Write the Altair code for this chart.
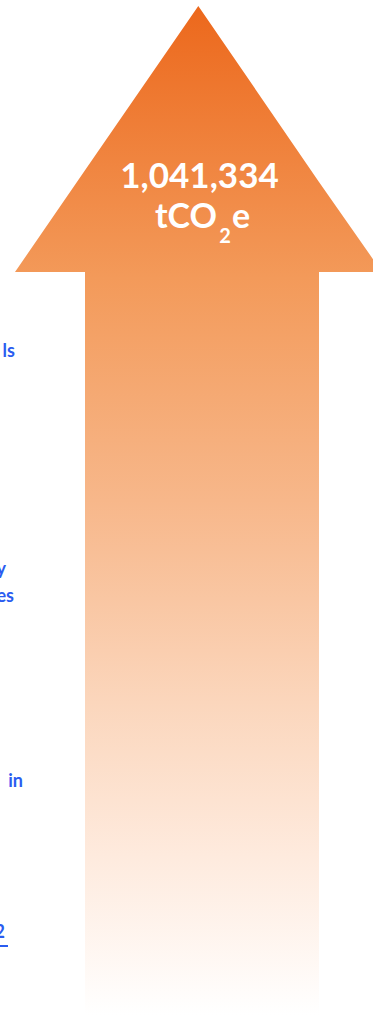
import altair as alt
import pandas as pd

W, H = 373, 1015

# Arrow outline as an area: x, upper edge, lower edge (pixel-like units, y grows downward)
arrow_x = [15, 85, 85.01, 198.3, 318.99, 319, 382]
arrow_top = [272, 170.3, 170.3, 6, 181.9, 181.9, 272]
arrow_bottom = [272, 272, 1015, 1015, 1015, 272, 272]

# Gradient (top -> bottom)
grad_offsets = [0.0, 0.27, 0.49, 0.69, 0.84, 1.0]
grad_colors = ["#EC681C", "#F39A5A", "#F7B78A", "#FBD6BC", "#FEEADD", "#FFFFFF"]

# Headline value
value_text = ["1,041,334"]
unit_main = ["tCO"]
unit_sub = ["2"]
unit_tail = ["e"]

# Clipped blue labels on the left edge
side_text = ["ls", "y", "es", "in", "2"]
side_x = [15, 6, 14, 23, 5]
side_y = [357, 575, 602, 787, 938]

arrow_df = pd.DataFrame({"x": arrow_x, "y": arrow_top, "y2": arrow_bottom})

xs = alt.Scale(domain=[0, W], nice=False, zero=False)
ys = alt.Scale(domain=[H, 0], nice=False, zero=False)

gradient = alt.Gradient(
    gradient="linear",
    stops=[alt.GradientStop(color=c, offset=o) for c, o in zip(grad_colors, grad_offsets)],
    x1=1, x2=1, y1=0, y2=1,
)

arrow = alt.Chart(arrow_df).mark_area(color=gradient, clip=True).encode(
    x=alt.X("x:Q", scale=xs, axis=None),
    y=alt.Y("y:Q", scale=ys, axis=None),
    y2="y2:Q",
)

def text_layer(df, **kw):
    return alt.Chart(df).mark_text(**kw).encode(
        x=alt.X("x:Q", scale=xs, axis=None),
        y=alt.Y("y:Q", scale=ys, axis=None),
        text="t:N",
    )

font = "Lato"
v = text_layer(pd.DataFrame({"x": [199.5], "y": [188], "t": value_text}),
               font=font, fontWeight="bold", fontSize=35, color="white",
               align="center", baseline="alphabetic")
u1 = text_layer(pd.DataFrame({"x": [217], "y": [228], "t": unit_main}),
                font=font, fontWeight="bold", fontSize=34, color="white",
                align="right", baseline="alphabetic")
u2 = text_layer(pd.DataFrame({"x": [225], "y": [243], "t": unit_sub}),
                font=font, fontWeight="bold", fontSize=20, color="white",
                align="center", baseline="alphabetic")
u3 = text_layer(pd.DataFrame({"x": [232], "y": [228], "t": unit_tail}),
                font=font, fontWeight="bold", fontSize=34, color="white",
                align="left", baseline="alphabetic")

side = text_layer(pd.DataFrame({"x": side_x, "y": side_y, "t": side_text}),
                  font=font, fontWeight="bold", fontSize=18, color="#2A5CF0",
                  align="right", baseline="alphabetic")

underline = alt.Chart(pd.DataFrame({"x": [0], "x2": [8], "y": [946]})).mark_rule(
    color="#2A5CF0", strokeWidth=2
).encode(
    x=alt.X("x:Q", scale=xs, axis=None),
    x2="x2:Q",
    y=alt.Y("y:Q", scale=ys, axis=None),
)

chart = alt.layer(arrow, v, u1, u2, u3, side, underline).properties(
    width=W, height=H, padding=0, background="white",
    autosize=alt.AutoSizeParams(type="none"),
).configure_view(stroke=None)

chart.save("out.html", embed_options={"renderer": "svg", "actions": False})
